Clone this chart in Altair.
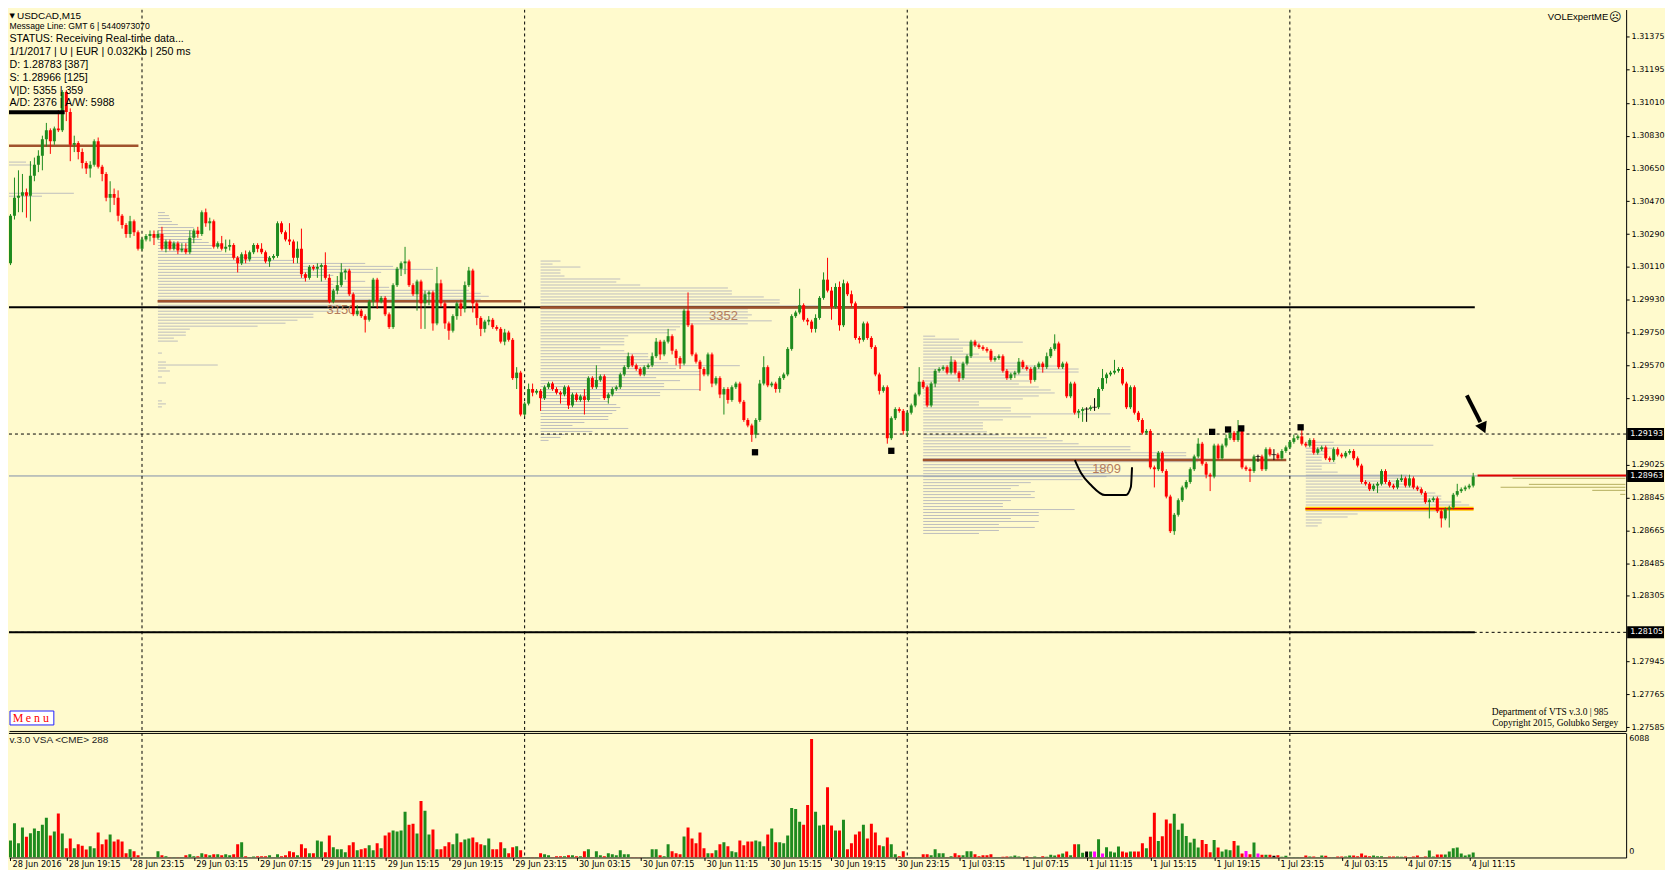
import altair as alt
import pandas as pd

# ---------------------------------------------------------------- data
FIRST_OPEN = 1.3032
close = [
    1.3013, 1.3039, 1.3049, 1.3050, 1.3052, 1.3050, 1.3061, 1.3067, 1.3072, 1.3081,
    1.3086, 1.3080, 1.3087, 1.3086, 1.3107, 1.3096, 1.3078, 1.3079, 1.3074, 1.3068,
    1.3065, 1.3067, 1.3080, 1.3066, 1.3062, 1.3049, 1.3051, 1.3049, 1.3039, 1.3034,
    1.3029, 1.3036, 1.3030, 1.3021, 1.3026, 1.3028, 1.3029, 1.3027, 1.3029, 1.3021,
    1.3025, 1.3021, 1.3024, 1.3020, 1.3021, 1.3019, 1.3027, 1.3031, 1.3029, 1.3041,
    1.3035, 1.3036, 1.3022, 1.3024, 1.3021, 1.3022, 1.3023, 1.3016, 1.3013, 1.3018,
    1.3015, 1.3019, 1.3023, 1.3021, 1.3019, 1.3014, 1.3016, 1.3017, 1.3035, 1.3030,
    1.3026, 1.3025, 1.3016, 1.3021, 1.3007, 1.3005, 1.3011, 1.3010, 1.3011, 1.3012,
    1.3005, 1.2992, 1.2998, 1.3001, 1.3008, 1.3009, 1.2996, 1.2985, 1.2987, 1.2984,
    1.2982, 1.2992, 1.3004, 1.2992, 1.2994, 1.2985, 1.2978, 1.3001, 1.3010, 1.3013,
    1.3014, 1.3001, 1.2996, 1.3003, 1.2991, 1.2996, 1.2997, 1.2980, 1.3002, 1.2991,
    1.2980, 1.2976, 1.2984, 1.2991, 1.2988, 1.3001, 1.3009, 1.2991, 1.2983, 1.2977,
    1.2981, 1.2982, 1.2978, 1.2977, 1.2970, 1.2975, 1.2971, 1.2950, 1.2953, 1.2930,
    1.2936, 1.2944, 1.2942, 1.2943, 1.2939, 1.2945, 1.2947, 1.2944, 1.2942, 1.2941,
    1.2945, 1.2935, 1.2941, 1.2938, 1.2940, 1.2938, 1.2950, 1.2945, 1.2949, 1.2951,
    1.2939, 1.2941, 1.2944, 1.2945, 1.2952, 1.2956, 1.2962, 1.2957, 1.2955, 1.2952,
    1.2956, 1.2957, 1.2962, 1.2970, 1.2963, 1.2970, 1.2973, 1.2965, 1.2961, 1.2958,
    1.2987, 1.2979, 1.2963, 1.2959, 1.2955, 1.2952, 1.2963, 1.2947, 1.2950, 1.2941,
    1.2944, 1.2938, 1.2945, 1.2947, 1.2937, 1.2927, 1.2924, 1.2919, 1.2927, 1.2947,
    1.2956, 1.2946, 1.2947, 1.2944, 1.2950, 1.2952, 1.2966, 1.2984, 1.2986, 1.2990,
    1.2982, 1.2981, 1.2977, 1.2983, 1.2994, 1.3004, 1.2998, 1.2989, 1.3000, 1.2979,
    1.3002, 1.2996, 1.2991, 1.2972, 1.2971, 1.2980, 1.2972, 1.2967, 1.2952, 1.2943,
    1.2945, 1.2917, 1.2928, 1.2933, 1.2932, 1.2921, 1.2931, 1.2935, 1.2941, 1.2948,
    1.2945, 1.2935, 1.2947, 1.2954, 1.2955, 1.2956, 1.2953, 1.2959, 1.2953, 1.2950,
    1.2958, 1.2962, 1.2970, 1.2968, 1.2967, 1.2966, 1.2965, 1.2960, 1.2961, 1.2962,
    1.2954, 1.2950, 1.2952, 1.2953, 1.2959, 1.2956, 1.2955, 1.2949, 1.2956, 1.2958,
    1.2956, 1.2962, 1.2966, 1.2969, 1.2956, 1.2958, 1.2940, 1.2947, 1.2931, 1.2932,
    1.2933, 1.2933, 1.2934, 1.2934, 1.2944, 1.2950, 1.2952, 1.2953, 1.2954, 1.2955,
    1.2947, 1.2934, 1.2945, 1.2931, 1.2927, 1.2920, 1.2921, 1.2901, 1.2900, 1.2909,
    1.2899, 1.2885, 1.2866, 1.2875, 1.2883, 1.2890, 1.2893, 1.2900, 1.2907, 1.2914,
    1.2903, 1.2897, 1.2896, 1.2913, 1.2906, 1.2913, 1.2917, 1.2920, 1.2916, 1.2921,
    1.2901, 1.2900, 1.2899, 1.2907, 1.2907, 1.2900, 1.2911, 1.2908, 1.2908, 1.2906,
    1.2910, 1.2912, 1.2915, 1.2917, 1.2918, 1.2914, 1.2913, 1.2916, 1.2909, 1.2911,
    1.2912, 1.2906, 1.2905, 1.2911, 1.2908, 1.2907, 1.2909, 1.2910, 1.2906, 1.2902,
    1.2893, 1.2892, 1.2889, 1.2891, 1.2892, 1.2899, 1.2893, 1.2891, 1.2890, 1.2894,
    1.2895, 1.2891, 1.2895, 1.2890, 1.2889, 1.2887, 1.2882, 1.2883, 1.2884, 1.2877,
    1.2873, 1.2878, 1.2879, 1.2886, 1.2888, 1.2889, 1.2890, 1.2891, 1.2896,
]
upper_wick_pips = [
    1, 1, 11, 14, 10, 2, 8, 4, 3, 2,   4, 1, 1, 10, 1, 1, 2, 4, 1, 2,
    1, 2, 1, 2, 1, 1, 7, 3, 4, 1,      1, 3, 1, 1, 1, 1, 2, 2, 2, 4,
    1, 1, 1, 1, 3, 3, 4, 1, 2, 1,      2, 2, 1, 1, 4, 4, 3, 1, 1, 1,
    2, 1, 1, 1, 3, 1, 1, 1, 1, 1,      1, 9, 1, 4, 11, 1, 1, 1, 2, 1,
    7, 2, 1, 5, 5, 1, 1, 1, 3, 1,      1, 1, 1, 1, 1, 1, 1, 1, 1, 1,
    8, 1, 1, 1, 1, 2, 1, 1, 9, 2,      1, 1, 1, 1, 2, 2, 2, 1, 1, 1,
    1, 2, 1, 1, 1, 2, 1, 1, 3, 1,      1, 3, 3, 1, 1, 1, 1, 1, 1, 1,
    1, 1, 1, 1, 1, 4, 1, 1, 8, 1,      1, 1, 1, 1, 1, 1, 2, 1, 1, 1,
    1, 1, 2, 2, 1, 1, 4, 1, 1, 1,      1, 10, 1, 1, 1, 1, 1, 1, 1, 1,
    1, 1, 1, 1, 1, 1, 1, 1, 1, 2,      6, 1, 1, 1, 1, 1, 1, 1, 1, 9,
    1, 1, 1, 2, 1, 4, 12, 2, 2, 3,     2, 1, 2, 1, 1, 1, 1, 1, 1, 1,
    1, 1, 1, 1, 1, 1, 1, 1, 1, 8,      1, 1, 1, 1, 1, 1, 1, 3, 1, 1,
    1, 1, 1, 1, 1, 1, 1, 1, 1, 1,      1, 1, 1, 1, 2, 1, 1, 1, 1, 1,
    1, 2, 1, 5, 1, 1, 1, 1, 1, 1,      1, 1, 1, 5, 1, 5, 1, 1, 6, 1,
    1, 1, 1, 1, 1, 1, 1, 1, 1, 1,      1, 1, 1, 1, 1, 1, 1, 1, 1, 3,
    1, 1, 1, 1, 1, 1, 2, 2, 1, 6,      1, 1, 1, 1, 1, 1, 1, 1, 3, 1,
    1, 1, 1, 2, 1, 4, 1, 1, 1, 1,      1, 1, 1, 1, 1, 1, 1, 1, 1, 1,
    1, 1, 1, 1, 1, 1, 1, 1, 1, 1,      2, 1, 2, 1, 1, 1, 1, 1, 1, 1,
    1, 1, 1, 1, 4, 1, 1, 1, 2,
]
lower_wick_pips = [
    1, 1, 2, 8, 9, 12, 14, 3, 4, 8,    4, 7, 2, 1, 1, 5, 9, 4, 4, 3,
    3, 5, 1, 1, 4, 2, 8, 4, 3, 2,      2, 2, 2, 1, 1, 1, 3, 4, 1, 1,
    2, 1, 1, 2, 1, 1, 1, 3, 2, 1,      2, 4, 1, 1, 1, 2, 2, 1, 5, 1,
    2, 1, 1, 2, 1, 1, 3, 1, 1, 1,      1, 2, 3, 3, 2, 2, 1, 1, 5, 8,
    1, 1, 1, 2, 1, 4, 1, 1, 1, 1,      7, 1, 3, 4, 1, 1, 1, 1, 1, 4,
    6, 1, 1, 9, 14, 14, 6, 4, 1, 2,    3, 5, 1, 2, 4, 2, 1, 5, 4, 4,
    2, 2, 1, 1, 1, 2, 1, 1, 6, 1,      1, 1, 2, 1, 7, 1, 1, 1, 1, 5,
    1, 2, 1, 1, 1, 8, 1, 1, 1, 1,      1, 3, 1, 1, 1, 1, 1, 1, 1, 1,
    1, 1, 1, 1, 3, 1, 1, 2, 4, 3,      1, 1, 1, 1, 12, 1, 1, 2, 1, 2,
    11, 2, 1, 1, 1, 1, 1, 4, 2, 1,     1, 1, 1, 2, 2, 1, 1, 1, 1, 1,
    1, 2, 2, 2, 1, 1, 1, 7, 1, 3,      1, 1, 2, 1, 2, 1, 1, 1, 1, 2,
    1, 3, 1, 1, 1, 2, 3, 1, 1, 1,      1, 1, 1, 2, 1, 1, 1, 1, 1, 2,
    1, 1, 1, 1, 1, 1, 1, 1, 1, 1,      1, 1, 1, 2, 1, 1, 1, 2, 1, 1,
    3, 1, 1, 1, 1, 1, 1, 1, 1, 3,      6, 7, 1, 2, 1, 1, 3, 1, 1, 1,
    1, 1, 1, 1, 1, 1, 1, 1, 10, 1,     1, 1, 1, 2, 1, 1, 1, 1, 1, 1,
    1, 2, 8, 1, 1, 1, 1, 1, 1, 1,      1, 1, 6, 1, 3, 1, 1, 1, 3, 1,
    1, 1, 1, 1, 1, 1, 1, 1, 1, 1,      1, 1, 1, 1, 1, 1, 1, 1, 1, 1,
    1, 1, 1, 1, 4, 1, 1, 1, 1, 1,      1, 1, 1, 1, 1, 1, 1, 9, 1, 1,
    5, 1, 10, 1, 1, 1, 1, 1, 1,
]
volume = [
    1025, 874, 1747, 722, 1529, 1058, 1243, 1478, 1361, 1680,
    2033, 1126, 1327, 2251, 1226, 470, 974, 470, 672, 605,
    403, 571, 470, 1277, 672, 924, 1176, 823, 924, 823,
    218, 420, 319, 118, 10, 10, 10, 10, 319, 118,
    67, 17, 17, 17, 17, 118, 168, 67, 67, 218,
    168, 118, 168, 168, 118, 168, 118, 168, 672, 773,
    67, 17, 50, 67, 67, 67, 118, 17, 168, 67,
    118, 319, 269, 118, 672, 470, 218, 218, 874, 823,
    269, 1126, 521, 420, 420, 269, 622, 773, 370, 420,
    470, 622, 370, 722, 470, 1126, 1277, 1378, 1327, 1378,
    2335, 1680, 1730, 1226, 2890, 2386, 1176, 1428, 420, 420,
    571, 773, 672, 1226, 773, 924, 974, 1025, 773, 672,
    622, 974, 420, 420, 773, 470, 218, 521, 571, 370,
    10, 10, 10, 10, 218, 168, 118, 17, 67, 67,
    67, 118, 118, 67, 67, 319, 420, 10, 319, 118,
    67, 218, 168, 118, 370, 168, 168, 17, 17, 17,
    17, 17, 420, 420, 118, 67, 672, 319, 218, 168,
    1075, 1529, 974, 722, 1277, 470, 218, 218, 370, 672,
    773, 571, 319, 269, 874, 622, 823, 823, 874, 823,
    571, 1176, 1478, 773, 773, 722, 1126, 2537, 2486, 1831,
    1680, 2688, 6065, 2335, 1630, 1680, 3595, 1630, 1378, 1378,
    1932, 420, 722, 1176, 1327, 1680, 974, 1730, 1277, 622,
    571, 1025, 672, 168, 67, 319, 10, 10, 10, 10,
    168, 168, 118, 420, 218, 218, 17, 67, 218, 118,
    118, 319, 319, 168, 67, 118, 118, 168, 17, 17,
    34, 51, 51, 101, 51, 10, 51, 10, 51, 10,
    68, 34, 135, 101, 152, 203, 304, 118, 676, 676,
    237, 304, 304, 304, 930, 203, 524, 304, 254, 558,
    304, 254, 304, 304, 304, 727, 473, 1065, 2282, 845,
    1082, 1944, 1741, 2231, 1420, 1741, 1099, 761, 963, 507,
    896, 693, 270, 896, 507, 304, 406, 372, 845, 608,
    203, 338, 169, 761, 203, 135, 135, 135, 85, 118,
    34, 85, 10, 10, 10, 10, 101, 51, 51, 10,
    101, 85, 10, 10, 51, 51, 51, 101, 101, 68,
    203, 101, 68, 101, 68, 68, 10, 51, 51, 51,
    34, 51, 10, 51, 101, 10, 51, 355, 51, 152,
    152, 152, 304, 473, 507, 203, 101, 152, 254,
]
magenta_volume_bars = [273, 275, 311, 314]

day_start_bars = [34, 130, 226, 322]
axis_tick_bars = [0.9, 15, 31, 47, 63, 79, 95, 111, 127, 143, 159, 175, 191, 207,
                  223, 239, 255, 271, 287, 303, 319, 335, 351, 367]
axis_tick_labels = ["28 Jun 2016", "28 Jun 19:15", "28 Jun 23:15", "29 Jun 03:15",
                    "29 Jun 07:15", "29 Jun 11:15", "29 Jun 15:15", "29 Jun 19:15",
                    "29 Jun 23:15", "30 Jun 03:15", "30 Jun 07:15", "30 Jun 11:15",
                    "30 Jun 15:15", "30 Jun 19:15", "30 Jun 23:15", "1 Jul 03:15",
                    "1 Jul 07:15", "1 Jul 11:15", "1 Jul 15:15", "1 Jul 19:15",
                    "1 Jul 23:15", "4 Jul 03:15", "4 Jul 07:15", "4 Jul 11:15"]
price_ticks = [1.31375, 1.31195, 1.31010, 1.30830, 1.30650, 1.30470, 1.30290, 1.30110,
               1.29930, 1.29750, 1.29570, 1.29390, 1.29025, 1.28845, 1.28665, 1.28485,
               1.28305, 1.27945, 1.27765, 1.27585]
marked_levels = [1.29193, 1.28963, 1.28105]
marked_level_labels = ["1.29193", "1.28963", "1.28105"]

# volume-at-price profiles (bar lengths, one row per price bin, top row first)
PROFILE_STEP = 0.000164
profile_start_bars = [38, 134, 230, 326]
profile_top_prices = [1.30408, 1.30142, 1.29730, 1.29148]
profile_29jun = [1.75, 2.75, 3, 3.5, 5, 9, 8.5, 9.75, 9.75, 11, 12.75, 16, 13.5, 16, 19,
                 28, 34, 52, 59, 69, 56, 44, 37, 52, 44, 58, 78, 81, 83, 81, 76, 46, 46,
                 46, 39, 39, 35, 32, 25, 8, 7, 7, 4, 5, 0, 0, 0, 1, 0, 0, 2, 15, 2, 3, 0,
                 1, 0, 2, 0, 0, 0, 0, 0, 1, 2, 1]
profile_30jun = [5, 3, 10, 5, 5, 6, 20, 19, 25, 47, 48, 48, 56, 60, 60, 70, 52, 52, 53,
                 52, 58, 52, 35, 34, 32, 22, 21, 21, 21, 15, 21, 27, 27, 28, 32, 50, 34,
                 40, 40, 29, 35, 31, 31, 40, 30, 30, 15, 17, 19, 20, 19, 18, 17, 17, 11,
                 8, 22, 13, 6, 5, 2]
profile_01jul = [3, 9, 25, 14, 10, 10, 14, 19, 8, 25, 35, 39, 39, 27, 22, 27, 24, 29, 32,
                 33, 29, 25, 14, 14, 22, 22, 47, 27, 20, 15, 15, 15, 16, 19, 31, 35, 39,
                 52, 52, 66, 66, 70, 69, 47, 47, 46, 47, 46, 40, 27, 24, 22, 28, 27, 28,
                 22, 20, 20, 38, 29, 29, 22, 29, 19, 28, 19, 14]
profile_04jul = [7, 32, 7, 5.5, 5.5, 4, 4, 7.5, 4, 4, 8, 25.5, 25.5, 25, 25, 29, 29, 32.5,
                 34, 34, 39, 41, 42, 34, 13, 10.5, 4, 4, 3]
profile_28jun_prices = [1.30685, 1.30669, 1.30514, 1.30498]
profile_28jun_ends = [4.9, 6.4, 16.9, 8.9]
right_profile_prices = [1.28950, 1.28917, 1.28901, 1.28884, 1.28862]
right_profile_lengths = [28.3, 24.2, 31.3, 8.3, 1.3]

poc_prices = [1.30775, 1.29921, 1.29887, 1.29050]
poc_from = [-1, 37.9, 133.9, 229.9]
poc_to = [33.1, 129.2, 225.1, 321.1]
poc_labels = ["3150", "3352", "1809"]
poc_label_bars = [83.9, 179.9, 276.0]
poc_label_prices = [1.29873, 1.29843, 1.29003]
last_poc_price, last_poc_from, last_poc_to = 1.28783, 325.9, 368.1

black_level, black_level_to = 1.29888, 368.4
low_level = 1.28105
bid_price, bid_from = 1.28966, 369.1

marker_bars = [187.8, 222.0, 302.5, 306.5, 309.8, 324.7]
marker_prices = [1.29093, 1.29101, 1.29205, 1.29218, 1.29224, 1.29230]
curve_bars = [268.05, 269.6, 272.1, 275.6, 280.9, 282.1, 282.4]
curve_prices = [1.29050, 1.28979, 1.28913, 1.28858, 1.28858, 1.28902, 1.29011]
stroke_bars, stroke_price = [-0.4, 14.6], 1.30959
arrow_bars, arrow_prices = [366.4, 369.8], [1.29405, 1.29258]
arrow_head_bar, arrow_head_price = 370.5, 1.29225

info_lines = ["USDCAD,M15", "Message Line: GMT 6 | 5440973070",
              "STATUS:  Receiving Real-time data...", "1/1/2017 | U | EUR | 0.032Kb | 250 ms",
              "D: 1.28783  [387]", "S: 1.28966  [125]", "V|D: 5355 | 359",
              "A/D: 2376 | A/W: 5988"]

assert len(close) == len(upper_wick_pips) == len(lower_wick_pips) == len(volume) == 369

# ---------------------------------------------------------------- layout / style
W, H_MAIN, H_VOL, GAP = 1623, 724, 125, 2
X_DOMAIN = [0.625, 0.625 + W / 4]
Y_DOMAIN = [1.27564, 1.31522]
VOL_DOMAIN = [0, 6371]
BG = "#FFFACD"
UP, DN, FLAT, MAG = "#1E8B1E", "#FF0000", "#000000", "#FF00FF"
SANS = "Liberation Sans"
AX = "DejaVu Sans"
X0 = X_DOMAIN[0]


def lim(v):
    """keep a left end inside the plotted range"""
    return max(v, X0)


xs = alt.Scale(domain=X_DOMAIN, nice=False, zero=False, padding=0)
ys = alt.Scale(domain=Y_DOMAIN, nice=False, zero=False, padding=0)
x_axis_main = alt.Axis(labels=False, ticks=False, domain=True, domainColor="black",
                       grid=False, title=None)
y_axis_main = alt.Axis(orient="right", values=price_ticks, format=".5f", labelFont=AX,
                       labelFontSize=8, labelColor="black", tickColor="black",
                       tickSize=3, domainColor="black", grid=False, title=None,
                       labelPadding=2, labelOverlap=False, labelFlush=False)


def X(f):
    return alt.X(f, scale=xs, axis=x_axis_main)


def Y(f):
    return alt.Y(f, scale=ys, axis=y_axis_main)


color_scale = alt.Scale(domain=["up", "down", "flat", "mag"], range=[UP, DN, FLAT, MAG])

# ---------------------------------------------------------------- tables
opens = [FIRST_OPEN] + close[:-1]
rows = []
for i, (o, c, u, l, v) in enumerate(zip(opens, close, upper_wick_pips, lower_wick_pips, volume)):
    d = "up" if c > o + 1e-9 else ("down" if c < o - 1e-9 else "flat")
    rows.append(dict(i=i, o=o, c=c, hi=max(o, c) + u / 1e4, lo=min(o, c) - l / 1e4, d=d,
                     v=v, vd=("mag" if i in magenta_volume_bars else d)))
cdf_all = pd.DataFrame(rows)
cdf = cdf_all[cdf_all.i >= 1]   # the first bar sits under the left window edge

prof_rows = []
for start, top, lens in zip(profile_start_bars, profile_top_prices,
                            [profile_29jun, profile_30jun, profile_01jul, profile_04jul]):
    for k, L in enumerate(lens):
        if L > 0:
            prof_rows.append(dict(x0=start, x1=start + L, p=top - k * PROFILE_STEP))
for p, e in zip(profile_28jun_prices, profile_28jun_ends):
    prof_rows.append(dict(x0=lim(-1), x1=e, p=p))
prof_df = pd.DataFrame(prof_rows)

right_df = pd.DataFrame(dict(p=right_profile_prices,
                             x0=[X_DOMAIN[1] - 0.2 - L for L in right_profile_lengths],
                             x1=[X_DOMAIN[1] - 0.2] * len(right_profile_lengths)))
poc_df = pd.DataFrame(dict(p=poc_prices, x0=[lim(v) for v in poc_from], x1=poc_to))
last_poc_df = pd.DataFrame(dict(p=[last_poc_price], x0=[last_poc_from], x1=[last_poc_to]))
poc_lab_df = pd.DataFrame(dict(t=poc_labels, i=poc_label_bars, p=poc_label_prices))
sep_df = pd.DataFrame(dict(i=day_start_bars))
mark_df = pd.DataFrame(dict(i=marker_bars, p=marker_prices))
curve_df = pd.DataFrame(dict(i=curve_bars, p=curve_prices, k=range(len(curve_bars))))
stroke_df = pd.DataFrame(dict(x0=[lim(stroke_bars[0])], x1=[stroke_bars[1]], p=[stroke_price]))
arrow_df = pd.DataFrame(dict(i=arrow_bars, p=arrow_prices, k=[0, 1]))
head_df = pd.DataFrame(dict(i=[arrow_head_bar], p=[arrow_head_price]))
level_df = pd.DataFrame(dict(p=marked_levels, t=marked_level_labels))

# ---------------------------------------------------------------- main panel
L = []
L.append(alt.Chart(prof_df).mark_rule(color="#BEBEBE", strokeWidth=1, clip=True)
         .encode(x=X("x0:Q"), x2="x1:Q", y=Y("p:Q")))
L.append(alt.Chart(right_df).mark_rule(color="#B5AE5E", strokeWidth=1, clip=True)
         .encode(x=X("x0:Q"), x2="x1:Q", y=Y("p:Q")))
L.append(alt.Chart(pd.DataFrame(dict(p=[1.28963]))).mark_rule(color="#7F8FAA", strokeWidth=1)
         .encode(x=alt.value(0), x2=alt.value(W), y=Y("p:Q")))
L.append(alt.Chart(pd.DataFrame(dict(p=[1.29193, low_level]))).mark_rule(
    color="black", strokeWidth=1, strokeDash=[3, 3]).encode(x=alt.value(0), x2=alt.value(W), y=Y("p:Q")))
L.append(alt.Chart(pd.DataFrame(dict(p=[black_level, low_level], x0=[lim(-1), lim(-1)],
                                     x1=[black_level_to, black_level_to])))
         .mark_rule(color="black", strokeWidth=2, clip=True)
         .encode(x=X("x0:Q"), x2="x1:Q", y=Y("p:Q")))
L.append(alt.Chart(poc_df).mark_rule(color="#A0522D", strokeWidth=2.5, clip=True)
         .encode(x=X("x0:Q"), x2="x1:Q", y=Y("p:Q")))
L.append(alt.Chart(last_poc_df).mark_rule(color="#FFC400", strokeWidth=4, clip=True)
         .encode(x=X("x0:Q"), x2="x1:Q", y=Y("p:Q")))
L.append(alt.Chart(last_poc_df).mark_rule(color="#E00000", strokeWidth=1.6, clip=True)
         .encode(x=X("x0:Q"), x2="x1:Q", y=Y("p:Q")))
L.append(alt.Chart(pd.DataFrame(dict(p=[bid_price], x0=[bid_from], x1=[X_DOMAIN[1]])))
         .mark_rule(color="#E00000", strokeWidth=2, clip=True)
         .encode(x=X("x0:Q"), x2="x1:Q", y=Y("p:Q")))
L.append(alt.Chart(sep_df).mark_rule(color="black", strokeWidth=1, strokeDash=[3, 3], clip=True)
         .encode(x=X("i:Q"), y=alt.value(0), y2=alt.value(H_MAIN)))
L.append(alt.Chart(poc_lab_df).mark_text(font=SANS, fontSize=13, color="#B47C5C", clip=True)
         .encode(x=X("i:Q"), y=Y("p:Q"), text="t:N"))
L.append(alt.Chart(cdf).mark_rule(strokeWidth=1, clip=True)
         .encode(x=X("i:Q"), y=Y("lo:Q"), y2="hi:Q",
                 color=alt.Color("d:N", scale=color_scale, legend=None)))
L.append(alt.Chart(cdf).mark_bar(width=3, clip=True)
         .encode(x=X("i:Q"), y=Y("o:Q"), y2="c:Q",
                 color=alt.Color("d:N", scale=color_scale, legend=None)))
L.append(alt.Chart(cdf[cdf.d == "flat"]).mark_tick(orient="horizontal", size=5, thickness=1,
                                                  color="black", clip=True)
         .encode(x=X("i:Q"), y=Y("c:Q")))
L.append(alt.Chart(mark_df).mark_square(size=40, color="black", opacity=1, clip=True)
         .encode(x=X("i:Q"), y=Y("p:Q")))
L.append(alt.Chart(curve_df).mark_line(color="black", strokeWidth=2, interpolate="monotone", clip=True)
         .encode(x=X("i:Q"), y=Y("p:Q"), order="k:Q"))
L.append(alt.Chart(stroke_df).mark_rule(color="black", strokeWidth=4, clip=True)
         .encode(x=X("x0:Q"), x2="x1:Q", y=Y("p:Q")))
L.append(alt.Chart(arrow_df).mark_line(color="black", strokeWidth=4, clip=True)
         .encode(x=X("i:Q"), y=Y("p:Q"), order="k:Q"))
L.append(alt.Chart(head_df).mark_point(shape="triangle-down", size=160, angle=336, filled=True,
                                      color="black", opacity=1, clip=True)
         .encode(x=X("i:Q"), y=Y("p:Q")))
# highlighted price labels on the axis
L.append(alt.Chart(level_df).mark_tick(orient="horizontal", size=37, thickness=12, color="black",
                                      opacity=1)
         .encode(x=alt.value(W + 19.5), y=Y("p:Q")))
L.append(alt.Chart(level_df).mark_text(font=AX, fontSize=8, color="white", align="left")
         .encode(x=alt.value(W + 4), y=Y("p:Q"), text="t:N"))


def ptext(t, x, y, size, font=SANS, color="black", align="left"):
    return alt.Chart(pd.DataFrame(dict(t=[t]))).mark_text(
        font=font, fontSize=size, color=color, align=align, baseline="middle"
    ).encode(x=alt.value(x), y=alt.value(y), text="t:N")


# info block (top left)
L.append(ptext("\u25BC", 0.5, 6.5, 7, font=AX))
info_y = [6.5, 17, 29.7, 42.7, 55.7, 68.7, 81.3, 93.7]
info_x = [8, 0.5, 0.5, 0.5, 0.5, 0.5, 0.5, 0.5]
info_size = [10, 8.7, 10.7, 10.7, 10.7, 10.7, 10.7, 10.7]
for t, x, y, s in zip(info_lines, info_x, info_y, info_size):
    L.append(ptext(t, x, y, s))
L.append(ptext("VOLExpertME", 1605, 7, 9.5, align="right"))
L.append(ptext("\u2639", 1612, 7, 12, font=AX, align="center"))
L.append(ptext("Department of VTS  v.3.0 | 985", 1605, 705.3, 9.5, font="Liberation Serif",
               align="right"))
L.append(ptext("Copyright 2015, Golubko Sergey", 1615, 715.7, 9.5, font="Liberation Serif",
               align="right"))
# Menu button
L.append(alt.Chart(pd.DataFrame(dict(a=[0]))).mark_rect(fill="white", stroke="#2020FF",
                                                        strokeWidth=1)
         .encode(x=alt.value(1), x2=alt.value(45), y=alt.value(704), y2=alt.value(718)))
for ch, x in zip(["M", "e", "n", "u"], [9, 19.5, 28, 37]):
    L.append(ptext(ch, x, 711.5, 12, font="Liberation Serif", color="#FF0000", align="center"))

main = alt.layer(*L).properties(width=W, height=H_MAIN)

# ---------------------------------------------------------------- volume panel
vol_x_axis = alt.Axis(values=axis_tick_bars,
                      labelExpr="[" + ",".join("'%s'" % s for s in axis_tick_labels) + "]"
                                "[indexof([" + ",".join(str(v) for v in axis_tick_bars) + "], datum.value)]",
                      labelAlign="left", labelOffset=2, labelPadding=0, tickSize=3,
                      tickColor="black", domainColor="black", labelFont=AX, labelFontSize=8.2,
                      labelColor="black", grid=False, title=None, labelOverlap=False,
                      labelFlush=False, labelBound=False)
vol_y_axis = alt.Axis(orient="right", labels=False, ticks=False, domainColor="black",
                      grid=False, title=None)
vys = alt.Scale(domain=VOL_DOMAIN, nice=False, zero=True, padding=0)

V = []
V.append(alt.Chart(sep_df).mark_rule(color="black", strokeWidth=1, strokeDash=[3, 3], clip=True)
         .encode(x=alt.X("i:Q", scale=xs, axis=vol_x_axis), y=alt.value(0), y2=alt.value(H_VOL)))
V.append(alt.Chart(cdf).mark_bar(width=3, clip=True)
         .encode(x=alt.X("i:Q", scale=xs, axis=vol_x_axis),
                 y=alt.Y("v:Q", scale=vys, axis=vol_y_axis),
                 color=alt.Color("vd:N", scale=color_scale, legend=None)))
V.append(alt.Chart(pd.DataFrame(dict(a=[0]))).mark_rule(color="black", strokeWidth=1)
         .encode(x=alt.value(0), x2=alt.value(W), y=alt.value(0.5)))
V.append(ptext("v.3.0 VSA <CME> 288", 0.5, 7.3, 10, color="#222222"))
V.append(ptext("6088", W + 3, 6, 8, font=AX))
V.append(ptext("0", W + 3, H_VOL - 5, 8, font=AX))
vol = alt.layer(*V).properties(width=W, height=H_VOL)

chart = alt.vconcat(main, vol, spacing=GAP, bounds="flush", padding=0,
                    background=BG).configure_view(stroke=None)
chart.save("out.html", embed_options={"renderer": "svg", "actions": False})
